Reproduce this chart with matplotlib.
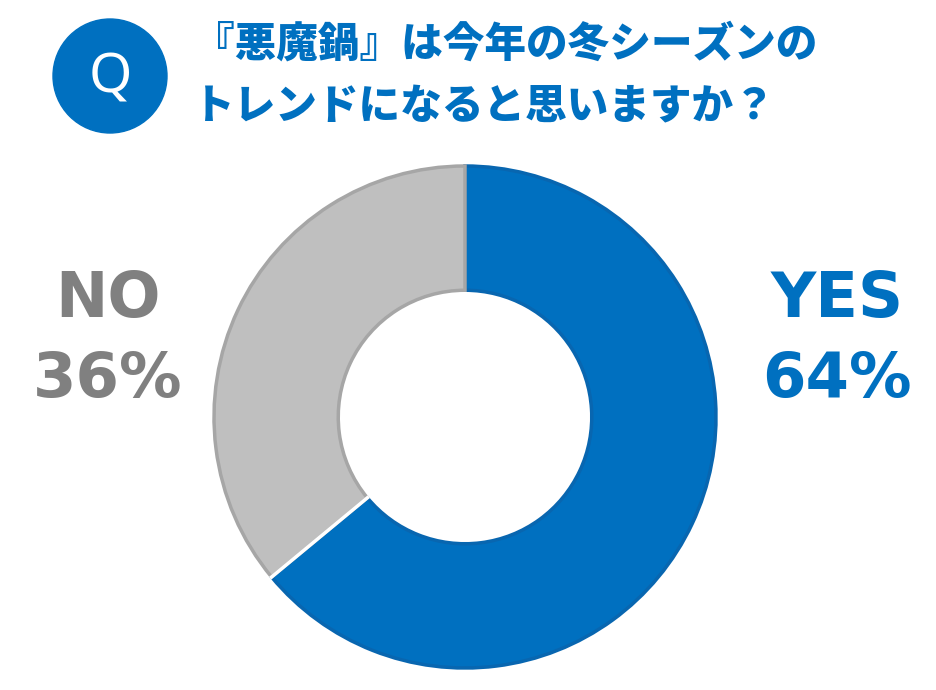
import matplotlib
matplotlib.use("Agg")
import matplotlib.pyplot as plt
import numpy as np
from matplotlib.patches import Circle

labels = ["YES", "NO"]
values = [64, 36]
pct_labels = ["64%", "36%"]
colors = ["#0070c0", "#bfbfbf"]
edge_colors = ["#0866b0", "#a6a6a6"]
text_colors = ["#0070c0", "#808080"]
title_lines = ["『悪魔鍋』は今年の冬シーズンの", "トレンドになると思いますか？"]

W, H = 936, 690
fig = plt.figure(figsize=(W / 100, H / 100), dpi=100)
ax = fig.add_axes([0, 0, 1, 1])

def py(y):
    return H - y

cx, cy, r = 465, py(417), 251
wedges, _ = ax.pie(values, colors=colors, startangle=90, counterclock=False,
                   radius=r, center=(cx, cy), frame=True,
                   wedgeprops=dict(width=r * 0.495, linewidth=2.5))
for w, ec in zip(wedges, edge_colors):
    w.set_edgecolor(ec)
ax.set_xlim(0, W)
ax.set_ylim(0, H)
ax.set_aspect("equal")
ax.axis("off")

# white separator at the lower-left boundary
ang = np.deg2rad(90 - 360 * values[0] / sum(values))
rin = r * (1 - 0.495)
ax.plot([cx + (rin - 2) * np.cos(ang), cx + (r + 2) * np.cos(ang)],
        [cy + (rin - 2) * np.sin(ang), cy + (r + 2) * np.sin(ang)],
        color="white", lw=2.5, solid_capstyle="butt")

# side labels
for lab, pct, tc, x in zip(labels, pct_labels, text_colors, [837, 108]):
    ax.text(x, py(300), lab, ha="center", va="center", fontsize=45,
            fontweight="bold", color=tc, family="DejaVu Sans")
    ax.text(x, py(380), pct, ha="center", va="center", fontsize=45,
            fontweight="bold", color=tc, family="DejaVu Sans")

# Q badge
ax.add_patch(Circle((110, py(76)), 57, color="#0070c0"))
ax.text(110, py(78), "Q", ha="center", va="center", fontsize=40,
        color="white", family="Noto Sans")

# title
for i, line in enumerate(title_lines):
    ax.text(193, py(45 + 62 * i), line, ha="left", va="center", fontsize=30,
            fontweight="black", color="#0070c0",
            family=["Noto Sans CJK JP", "DejaVu Sans"])

fig.savefig("out.png", dpi=100)
